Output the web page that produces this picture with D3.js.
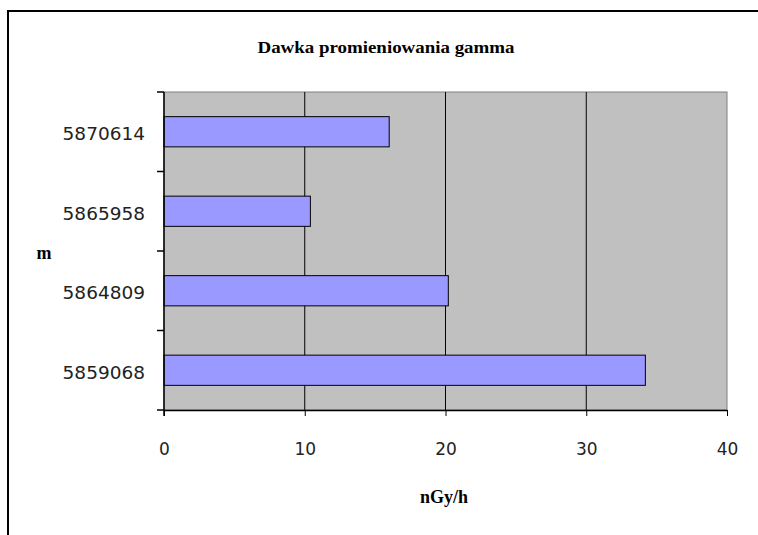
<!DOCTYPE html>
<html>
<head>
<meta charset="utf-8">
<script src="https://cdn.jsdelivr.net/npm/d3@7"></script>
<style>
  html, body { margin: 0; padding: 0; background: #fff; }
  svg { display: block; }
</style>
</head>
<body>
<svg id="chart" width="758" height="535"></svg>
<script>
// Gamma dose rate per measurement point
const categories = ["5870614", "5865958", "5864809", "5859068"];
const values = [16.0, 10.4, 20.2, 34.2];
const xTicks = [0, 10, 20, 30, 40];

const svg = d3.select("#chart");
const W = 758, H = 535;
const plot = { left: 164, right: 727, top: 92, bottom: 410 };

// outer chart frame
svg.append("rect")
  .attr("x", 8).attr("y", 11)
  .attr("width", W + 10).attr("height", H + 10)
  .attr("fill", "#fff").attr("stroke", "#000").attr("stroke-width", 2);

const x = d3.scaleLinear().domain([0, 40]).range([plot.left, plot.right]);
const y = d3.scaleBand().domain(categories).range([plot.top, plot.bottom]).paddingInner(0.62).paddingOuter(0.31);
const yTick = d3.scaleLinear().domain([0, categories.length]).range([plot.top, plot.bottom]);

// plot background
svg.append("rect")
  .attr("x", plot.left).attr("y", plot.top)
  .attr("width", plot.right - plot.left).attr("height", plot.bottom - plot.top)
  .attr("fill", "#c0c0c0").attr("stroke", "#808080").attr("stroke-width", 1);

// vertical gridlines
svg.append("g").selectAll("line").data(xTicks.slice(1, -1)).join("line")
  .attr("x1", d => x(d)).attr("x2", d => x(d))
  .attr("y1", plot.top).attr("y2", plot.bottom)
  .attr("stroke", "#000").attr("stroke-width", 1);

// bars
svg.append("g").selectAll("rect").data(categories).join("rect")
  .attr("x", x(0))
  .attr("y", d => y(d))
  .attr("width", (d, i) => x(values[i]) - x(0))
  .attr("height", y.bandwidth())
  .attr("fill", "#9999ff").attr("stroke", "#000").attr("stroke-width", 1);

// x axis
const xAxis = svg.append("g")
  .attr("transform", `translate(0,${plot.bottom})`)
  .call(d3.axisBottom(x).tickValues(xTicks).tickSize(6).tickPadding(27).tickSizeOuter(0));
xAxis.select(".domain").attr("stroke", "#000").attr("stroke-width", 1.5);
xAxis.selectAll(".tick line").attr("stroke", "#000");
xAxis.selectAll("text")
  .attr("font-family", "DejaVu Sans, sans-serif").attr("font-size", 17).attr("fill", "#222");

// y axis: tick marks between categories, labels centred on bars
const yAxisG = svg.append("g");
yAxisG.append("line")
  .attr("x1", plot.left).attr("x2", plot.left)
  .attr("y1", plot.top).attr("y2", plot.bottom + 6)
  .attr("stroke", "#000").attr("stroke-width", 1.5);
yAxisG.selectAll("line.tk").data(d3.range(categories.length + 1)).join("line")
  .attr("class", "tk")
  .attr("x1", plot.left - 7).attr("x2", plot.left)
  .attr("y1", d => yTick(d)).attr("y2", d => yTick(d))
  .attr("stroke", "#000").attr("stroke-width", 1.5);
yAxisG.selectAll("text").data(categories).join("text")
  .attr("x", 145)
  .attr("y", d => y(d) + y.bandwidth() / 2 + 2)
  .attr("dy", "0.36em")
  .attr("text-anchor", "end")
  .attr("font-family", "DejaVu Sans, sans-serif").attr("font-size", 18.5)
  .attr("fill", "#222")
  .text(d => d);

// title
svg.append("text")
  .attr("x", 386).attr("y", 53)
  .attr("text-anchor", "middle")
  .attr("font-family", "Liberation Serif, serif").attr("font-weight", "bold")
  .attr("font-size", 16)
  .attr("textLength", 257).attr("lengthAdjust", "spacingAndGlyphs")
  .text("Dawka promieniowania gamma");

// axis titles
svg.append("text")
  .attr("x", 44).attr("y", 259)
  .attr("text-anchor", "middle")
  .attr("font-family", "Liberation Serif, serif").attr("font-weight", "bold")
  .attr("font-size", 18)
  .text("m");

svg.append("text")
  .attr("x", 444).attr("y", 503)
  .attr("text-anchor", "middle")
  .attr("font-family", "Liberation Serif, serif").attr("font-weight", "bold")
  .attr("font-size", 18)
  .text("nGy/h");
</script>
</body>
</html>
